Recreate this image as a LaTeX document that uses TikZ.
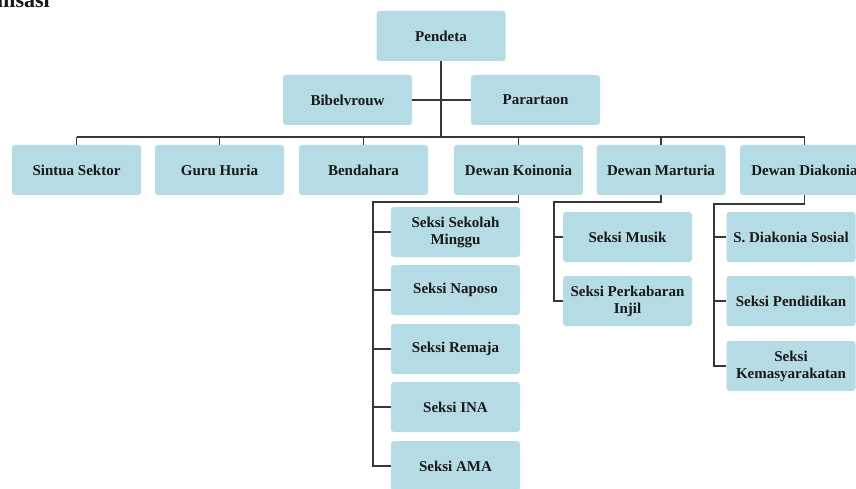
\documentclass[tikz,border=0pt]{standalone}
\usepackage{fontspec}
\setmainfont{Liberation Serif}
\definecolor{boxfill}{RGB}{181,219,229}
\definecolor{linec}{RGB}{55,55,55}
\definecolor{txt}{RGB}{25,25,25}
\begin{document}
\begin{tikzpicture}[x=1pt,y=-1pt,
  box/.style={fill=boxfill, rounded corners=3pt, minimum width=129pt, minimum height=50pt,
    inner sep=2pt, align=center, font=\fontsize{15}{17}\selectfont\bfseries, text=txt},
  conn/.style={draw=linec, line width=1.1pt}]
\useasboundingbox (0,0) rectangle (856,489);
\clip (0,0) rectangle (856,489);
\fill[white] (0,0) rectangle (856,489);
\node[anchor=base west, inner sep=0, font=\fontsize{22}{24}\selectfont\bfseries, text=txt] (title) at (-3,8) {nisasi};
% top
\node[box] (pendeta) at (441,36) {Pendeta};
\node[box] (bibel) at (347.5,100) {Bibelvrouw};
\node[box] (parar) at (535.5,100) {Parartaon};
% row 2
\node[box] (sintua) at (76.5,170) {Sintua Sektor};
\node[box] (guru) at (219.5,170) {Guru Huria};
\node[box] (bend) at (363.5,170) {Bendahara};
\node[box] (koin) at (518.5,170) {Dewan Koinonia};
\node[box] (mart) at (661,170) {Dewan Marturia};
\node[box] (diak) at (804.5,170) {Dewan Diakonia};
% koinonia children
\node[box] (k1) at (455.5,232) {Seksi Sekolah\\Minggu};
\node[box] (k2) at (455.5,290) {Seksi Naposo};
\node[box] (k3) at (455.5,349) {Seksi Remaja};
\node[box] (k4) at (455.5,407) {Seksi INA};
\node[box] (k5) at (455.5,466) {Seksi AMA};
% marturia children
\node[box] (m1) at (627.5,237) {Seksi Musik};
\node[box] (m2) at (627.5,301) {Seksi Perkabaran\\Injil};
% diakonia children
\node[box] (d1) at (791,237) {S. Diakonia Sosial};
\node[box] (d2) at (791,301) {Seksi Pendidikan};
\node[box] (d3) at (791,366) {Seksi\\Kemasyarakatan};
% connectors
\coordinate (bus) at (441,137);
\draw[conn] (pendeta.south) -- (bus);
\draw[conn] (bibel.east) -- (parar.west);
\draw[conn] (sintua.north |- bus) -- (diak.north |- bus);
\foreach \n in {sintua,guru,bend,koin,mart,diak}
  \draw[conn] (\n.north |- bus) -- (\n.north);
\coordinate (kb) at (373,202);
\draw[conn] (koin.south) -- (koin.south |- kb) -- (kb) -- (kb |- k5.west) -- (k5.west);
\foreach \n in {k1,k2,k3,k4}
  \draw[conn] (kb |- \n.west) -- (\n.west);
\coordinate (mb) at (554,202);
\draw[conn] (mart.south) -- (mart.south |- mb) -- (mb) -- (mb |- m2.west) -- (m2.west);
\draw[conn] (mb |- m1.west) -- (m1.west);
\coordinate (db) at (714,204);
\draw[conn] (diak.south) -- (diak.south |- db) -- (db) -- (db |- d3.west) -- (d3.west);
\foreach \n in {d1,d2}
  \draw[conn] (db |- \n.west) -- (\n.west);
\end{tikzpicture}
\end{document}
